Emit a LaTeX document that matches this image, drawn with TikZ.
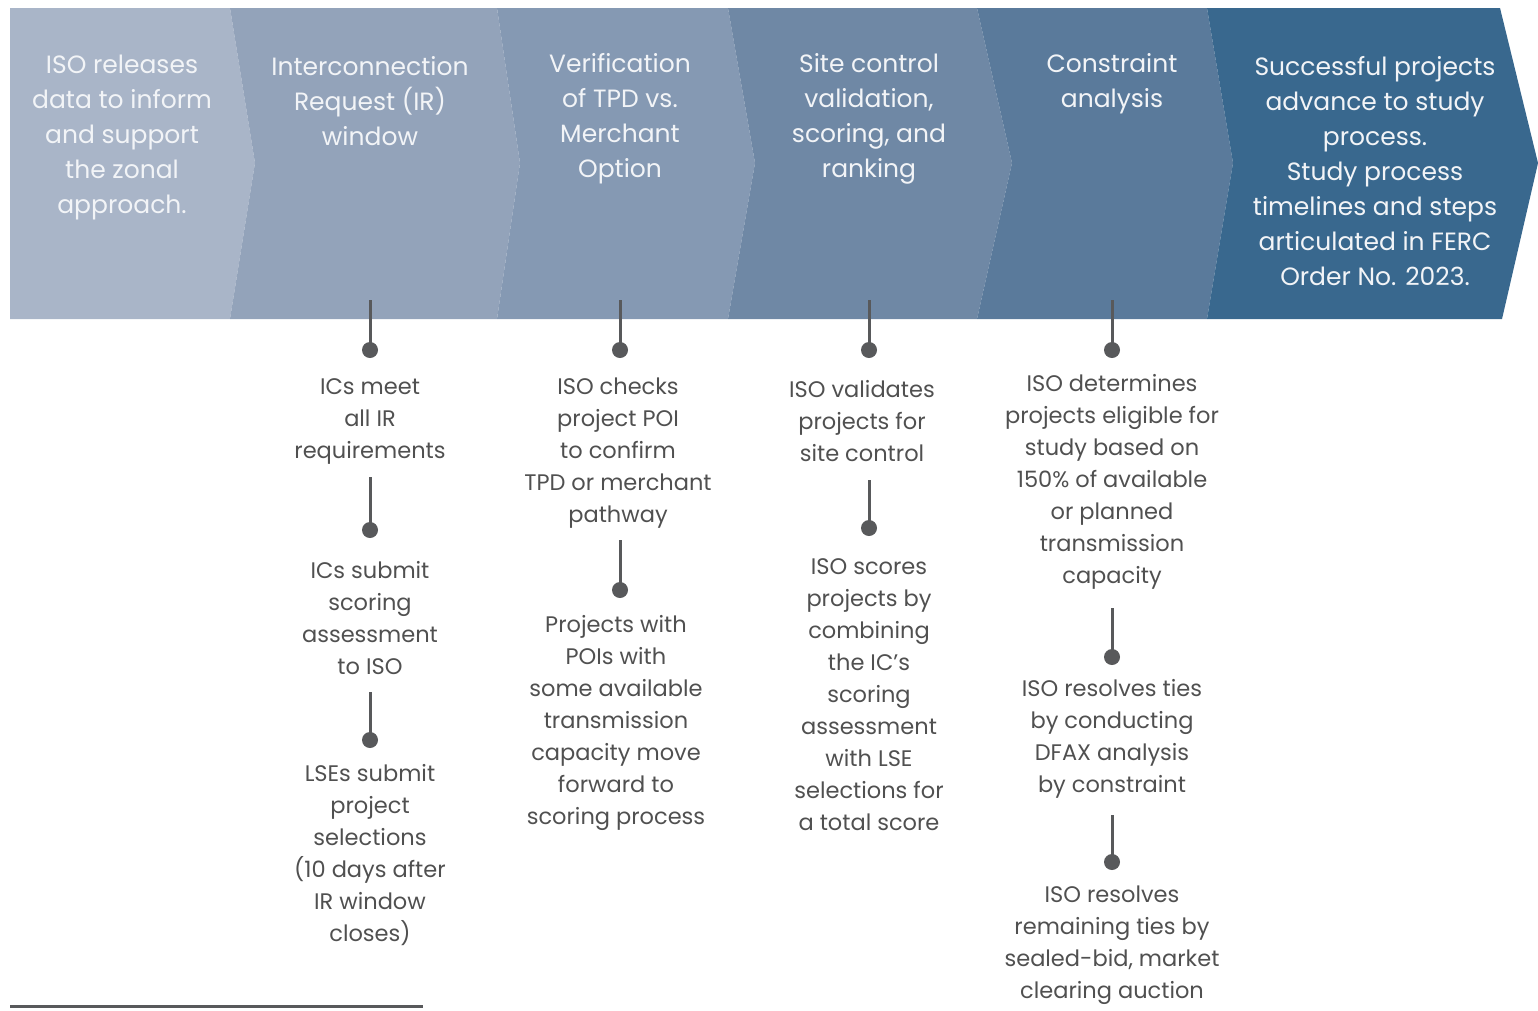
\documentclass[tikz,border=0pt]{standalone}
\usepackage{fontspec}
\setmainfont{Poppins}
\definecolor{cA}{HTML}{A9B5C8}
\definecolor{cB}{HTML}{93A3BA}
\definecolor{cC}{HTML}{8599B3}
\definecolor{cD}{HTML}{6F88A5}
\definecolor{cE}{HTML}{5A7A9B}
\definecolor{cF}{HTML}{39688E}
\definecolor{txtgray}{HTML}{505050}
\definecolor{lingray}{HTML}{58595B}
\definecolor{headtxt}{HTML}{F2F4F7}
\begin{document}
\begin{tikzpicture}[x=1pt,y=-1pt,
  head/.style={text=headtxt, align=center, font=\fontsize{25}{35}\selectfont, inner sep=0pt},
  body/.style={text=txtgray, align=center, font=\fontsize{22.5}{32}\selectfont, inner sep=0pt},
  dotn/.style={circle, fill=lingray, minimum size=16pt, inner sep=0pt},
  conn/.style={draw=lingray, line width=3pt}]
\useasboundingbox (0,0) rectangle (1538,1010);
% chevrons
\fill[cA] (10,8) -- (230,8) -- (255,163) -- (230,319) -- (10,319) -- cycle;
\fill[cB] (230,8) -- (497,8) -- (520,163) -- (497,319) -- (230,319) -- (255,163) -- cycle;
\fill[cC] (497,8) -- (728,8) -- (755,163) -- (728,319) -- (497,319) -- (520,163) -- cycle;
\fill[cD] (728,8) -- (977,8) -- (1012,163) -- (977,319) -- (728,319) -- (755,163) -- cycle;
\fill[cE] (977,8) -- (1207,8) -- (1233,163) -- (1207,319) -- (977,319) -- (1012,163) -- cycle;
\fill[cF] (1207,8) -- (1500,8) -- (1538,163) -- (1502,319) -- (1207,319) -- (1233,163) -- cycle;
% header texts
\node[head] (h1) at (122,137) {ISO releases\\data to inform\\and support\\the zonal\\approach.};
\node[head] (h2) at (370,101) {Interconnection\\Request (IR)\\window};
\node[head] (h3) at (620,119) {Verification\\of TPD vs.\\Merchant\\Option};
\node[head] (h4) at (869,119) {Site control\\validation,\\scoring, and\\ranking};
\node[head] (h5) at (1112,84) {Constraint\\analysis};
\node[head] (h6) at (1375,171) {Successful projects\\advance to study\\process.\\Study process\\timelines and steps\\articulated in FERC\\Order No. 2023.};
% column 2
\coordinate (s2a) at (370,300);
\node[dotn] (d2a) at (370,350) {};
\node[body] (t2a) at (370,421) {ICs meet\\all IR\\requirements};
\coordinate (s2b) at (370,477);
\node[dotn] (d2b) at (370,530) {};
\node[body] (t2b) at (370,618.5) {ICs submit\\scoring\\assessment\\to ISO};
\coordinate (s2c) at (370,692);
\node[dotn] (d2c) at (370,740) {};
\node[body] (t2c) at (370,855.5) {LSEs submit\\project\\selections\\(10 days after\\IR window\\closes)};
\draw[conn] (s2a) -- (d2a.center);
\draw[conn] (s2b) -- (d2b.center);
\draw[conn] (s2c) -- (d2c.center);
% column 3
\coordinate (s3a) at (620,300);
\node[dotn] (d3a) at (620,350) {};
\node[body] (t3a) at (618,453) {ISO checks\\project POI\\to confirm\\TPD or merchant\\pathway};
\coordinate (s3b) at (620,540);
\node[dotn] (d3b) at (620,590) {};
\node[body] (t3b) at (616,723) {Projects with\\POIs with\\some available\\transmission\\capacity move\\forward to\\scoring process};
\draw[conn] (s3a) -- (d3a.center);
\draw[conn] (s3b) -- (d3b.center);
% column 4
\coordinate (s4a) at (869,300);
\node[dotn] (d4a) at (869,350) {};
\node[body] (t4a) at (862,421) {ISO validates\\projects for\\site control};
\coordinate (s4b) at (869,480);
\node[dotn] (d4b) at (869,528) {};
\node[body] (t4b) at (869,695) {ISO scores\\projects by\\combining\\the IC's\\scoring\\assessment\\with LSE\\selections for\\a total score};
\draw[conn] (s4a) -- (d4a.center);
\draw[conn] (s4b) -- (d4b.center);
% column 5
\coordinate (s5a) at (1112,300);
\node[dotn] (d5a) at (1112,350) {};
\node[body] (t5a) at (1112,481.5) {ISO determines\\projects eligible for\\study based on\\150\% of available\\or planned\\transmission\\capacity};
\coordinate (s5b) at (1112,608);
\node[dotn] (d5b) at (1112,657) {};
\node[body] (t5b) at (1112,738.5) {ISO resolves ties\\by conducting\\DFAX analysis\\by constraint};
\coordinate (s5c) at (1112,815);
\node[dotn] (d5c) at (1112,862) {};
\node[body] (t5c) at (1112,945) {ISO resolves\\remaining ties by\\sealed-bid, market\\clearing auction};
\draw[conn] (s5a) -- (d5a.center);
\draw[conn] (s5b) -- (d5b.center);
\draw[conn] (s5c) -- (d5c.center);
% footnote rule
\coordinate (fl) at (10,1006);
\coordinate (fr) at (423,1006);
\draw[draw=lingray, line width=3pt] (fl) -- (fr);
\end{tikzpicture}
\end{document}
